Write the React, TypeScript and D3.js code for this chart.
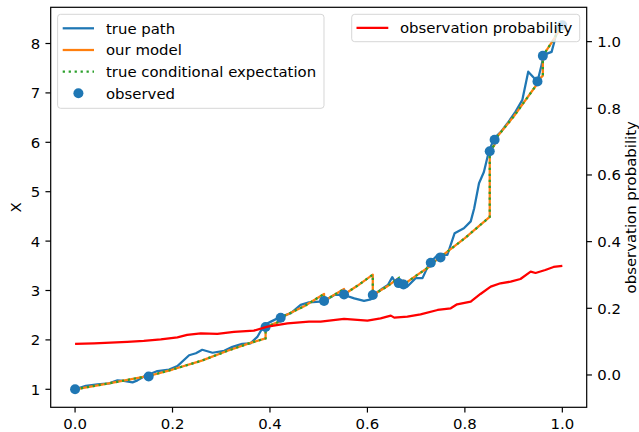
import React from 'react';
import * as d3 from 'd3';

// ---- data ----
const truePathT = [0, 0.022, 0.046, 0.07, 0.087, 0.1, 0.118, 0.128, 0.145, 0.151, 0.169, 0.193, 0.21, 0.234, 0.248, 0.261, 0.282, 0.306, 0.323, 0.343, 0.36, 0.374, 0.388, 0.402, 0.422, 0.443, 0.463, 0.48, 0.495, 0.511, 0.532, 0.552, 0.573, 0.593, 0.607, 0.617, 0.631, 0.642, 0.651, 0.658, 0.668, 0.682, 0.699, 0.713, 0.727, 0.744, 0.764, 0.779, 0.798, 0.812, 0.819, 0.829, 0.839, 0.849, 0.86, 0.874, 0.887, 0.904, 0.918, 0.93, 0.942, 0.949, 0.957, 0.962, 0.978, 0.984, 0.99, 1.0];
const truePathX = [1.0, 1.07, 1.10, 1.12, 1.18, 1.17, 1.14, 1.18, 1.28, 1.30, 1.37, 1.40, 1.47, 1.69, 1.73, 1.80, 1.74, 1.78, 1.86, 1.92, 1.93, 2.06, 2.30, 2.37, 2.47, 2.54, 2.71, 2.76, 2.77, 2.78, 2.91, 2.91, 2.84, 2.79, 2.82, 2.94, 3.04, 3.11, 3.27, 3.15, 3.11, 3.08, 3.25, 3.25, 3.55, 3.72, 3.72, 4.16, 4.26, 4.40, 4.66, 5.17, 5.40, 5.81, 6.08, 6.21, 6.38, 6.62, 6.86, 7.43, 7.30, 7.23, 7.55, 7.77, 7.83, 8.05, 8.34, 8.37];

const modelT = [0, 0.075, 0.151, 0.2, 0.26, 0.313, 0.36, 0.391, 0.391, 0.422, 0.422, 0.47, 0.511, 0.511, 0.552, 0.552, 0.58, 0.611, 0.611, 0.64, 0.664, 0.664, 0.674, 0.674, 0.70, 0.73, 0.73, 0.75, 0.75, 0.80, 0.851, 0.851, 0.861, 0.861, 0.90, 0.949, 0.949, 0.96, 0.96, 0.98, 1.0];
const modelX = [1.0, 1.13, 1.27, 1.40, 1.58, 1.78, 1.94, 2.03, 2.26, 2.38, 2.45, 2.68, 2.93, 2.79, 3.03, 2.92, 3.10, 3.32, 2.91, 3.08, 3.25, 3.15, 3.20, 3.12, 3.30, 3.50, 3.55, 3.66, 3.68, 4.06, 4.49, 5.82, 5.95, 6.05, 6.52, 7.19, 7.24, 7.35, 7.75, 8.05, 8.37];

const condT = modelT;
const condX = modelX;

const obsT = [0, 0.151, 0.391, 0.422, 0.511, 0.552, 0.611, 0.664, 0.674, 0.730, 0.750, 0.851, 0.861, 0.949, 0.960, 1.0];
const obsX = [1.0, 1.26, 2.26, 2.45, 2.79, 2.92, 2.91, 3.15, 3.12, 3.56, 3.67, 5.82, 6.05, 7.23, 7.75, 8.37];

const probT = [0, 0.039, 0.107, 0.141, 0.176, 0.21, 0.23, 0.258, 0.292, 0.326, 0.367, 0.395, 0.436, 0.48, 0.504, 0.552, 0.6, 0.627, 0.648, 0.655, 0.682, 0.709, 0.744, 0.771, 0.784, 0.812, 0.832, 0.853, 0.873, 0.894, 0.914, 0.935, 0.945, 0.965, 0.982, 1.0];
const probP = [0.093, 0.095, 0.099, 0.102, 0.107, 0.113, 0.12, 0.125, 0.123, 0.129, 0.133, 0.145, 0.155, 0.16, 0.16, 0.168, 0.163, 0.17, 0.178, 0.172, 0.175, 0.182, 0.195, 0.2, 0.212, 0.22, 0.243, 0.265, 0.275, 0.28, 0.288, 0.31, 0.306, 0.315, 0.324, 0.327];

const xTicks = [0, 0.2, 0.4, 0.6, 0.8, 1.0];
const yTicks = [1, 2, 3, 4, 5, 6, 7, 8];
const y2Ticks = [0, 0.2, 0.4, 0.6, 0.8, 1.0];

const leftLegend = ['true path', 'our model', 'true conditional expectation', 'observed'];
const rightLegend = ['observation probability'];

// ---- layout ----
const W = 639, H = 432;
const L = 50.7, R = 586.7, T = 7.3, B = 407.3;
const FONT = '"DejaVu Sans", sans-serif';
const FS = 14.9;
const LW = 2.25;
const DOT = '2.25,3.71';
const DOT_R = 5;

const BLUE = '#1f77b4', ORANGE = '#ff7f0e', GREEN = '#2ca02c', RED = '#ff0000';

export default function App() {
  const x = d3.scaleLinear().domain([-0.05, 1.05]).range([L, R]);
  const y = d3.scaleLinear().domain([0.6356, 8.733]).range([B, T]);
  const y2 = d3.scaleLinear().domain([-0.097, 1.103]).range([B, T]);

  const mk = (ts: number[], vs: number[], sy: d3.ScaleLinear<number, number>) =>
    d3.line<number>().x((_, i) => x(ts[i])).y((_, i) => sy(vs[i]))(ts) || '';

  const pathTrue = mk(truePathT, truePathX, y);
  const pathModel = mk(modelT, modelX, y);
  const pathCond = mk(condT, condX, y);
  const pathProb = mk(probT, probP, y2);

  const tickLen = 5.25;
  const pad = 5.25;

  const lgL = { x: 57.6, y: 14.3, w: 266.4, h: 94 };
  const rowY = [28.3, 50, 71.7, 93.3];
  const lgR = { x: 351.7, y: 14.3, w: 228, h: 27.4 };

  return (
    <svg width={W} height={H} style={{ position: 'absolute', left: 0, top: 0, background: '#fff' }}
      fontFamily={FONT} fontSize={FS}>
      <defs>
        <clipPath id="plotclip">
          <rect x={L} y={T} width={R - L} height={B - T} />
        </clipPath>
      </defs>
      <rect x={0} y={0} width={W} height={H} fill="#fff" />
      <g clipPath="url(#plotclip)">
        <path d={pathTrue} fill="none" stroke={BLUE} strokeWidth={LW} strokeLinejoin="round" />
        <path d={pathModel} fill="none" stroke={ORANGE} strokeWidth={LW} strokeLinejoin="round" />
        <path d={pathCond} fill="none" stroke={GREEN} strokeWidth={LW} strokeDasharray={DOT} />
        {obsT.map((t, i) => (
          <circle key={i} cx={x(t)} cy={y(obsX[i])} r={DOT_R} fill={BLUE} />
        ))}
      </g>
      {/* left legend */}
      <g>
        <rect x={lgL.x} y={lgL.y} width={lgL.w} height={lgL.h} rx={3} fill="#fff" fillOpacity={0.8}
          stroke="#cccccc" strokeOpacity={0.8} strokeWidth={1} />
        <line x1={62.7} x2={94} y1={rowY[0]} y2={rowY[0]} stroke={BLUE} strokeWidth={LW} />
        <line x1={62.7} x2={94} y1={rowY[1]} y2={rowY[1]} stroke={ORANGE} strokeWidth={LW} />
        <line x1={62.7} x2={94} y1={rowY[2]} y2={rowY[2]} stroke={GREEN} strokeWidth={LW} strokeDasharray={DOT} />
        <circle cx={78.4} cy={rowY[3]} r={DOT_R} fill={BLUE} />
        {leftLegend.map((s, i) => (
          <text key={s} x={106} y={rowY[i] + 5.3} fill="#000">{s}</text>
        ))}
      </g>
      {/* right axis line */}
      <g clipPath="url(#plotclip)">
        <path d={pathProb} fill="none" stroke={RED} strokeWidth={LW} strokeLinejoin="round" />
      </g>
      {/* right legend */}
      <g>
        <rect x={lgR.x} y={lgR.y} width={lgR.w} height={lgR.h} rx={3} fill="#fff" fillOpacity={0.8}
          stroke="#cccccc" strokeOpacity={0.8} strokeWidth={1} />
        <line x1={356.5} x2={388.3} y1={27.8} y2={27.8} stroke={RED} strokeWidth={LW} />
        <text x={400} y={27.8 + 5.3} fill="#000">{rightLegend[0]}</text>
      </g>
      {/* spines */}
      <rect x={L} y={T} width={R - L} height={B - T} fill="none" stroke="#000" strokeWidth={1.2} />
      {/* x ticks */}
      {xTicks.map(t => (
        <g key={'x' + t}>
          <line x1={x(t)} x2={x(t)} y1={B} y2={B + tickLen} stroke="#000" strokeWidth={1.2} />
          <text x={x(t)} y={B + tickLen + pad + 10.9} textAnchor="middle" fill="#000">{t.toFixed(1)}</text>
        </g>
      ))}
      {/* left y ticks */}
      {yTicks.map(t => (
        <g key={'y' + t}>
          <line x1={L - tickLen} x2={L} y1={y(t)} y2={y(t)} stroke="#000" strokeWidth={1.2} />
          <text x={L - tickLen - pad} y={y(t) + 5.4} textAnchor="end" fill="#000">{String(t)}</text>
        </g>
      ))}
      {/* right y ticks */}
      {y2Ticks.map(t => (
        <g key={'y2' + t}>
          <line x1={R} x2={R + tickLen} y1={y2(t)} y2={y2(t)} stroke="#000" strokeWidth={1.2} />
          <text x={R + tickLen + pad} y={y2(t) + 5.4} textAnchor="start" fill="#000">{t.toFixed(1)}</text>
        </g>
      ))}
      {/* axis labels */}
      <text transform={`translate(21.3, ${(T + B) / 2}) rotate(-90)`} textAnchor="middle" fill="#000">X</text>
      <text transform={`translate(636, ${(T + B) / 2}) rotate(-90)`} textAnchor="middle" fill="#000">observation probability</text>
    </svg>
  );
}
